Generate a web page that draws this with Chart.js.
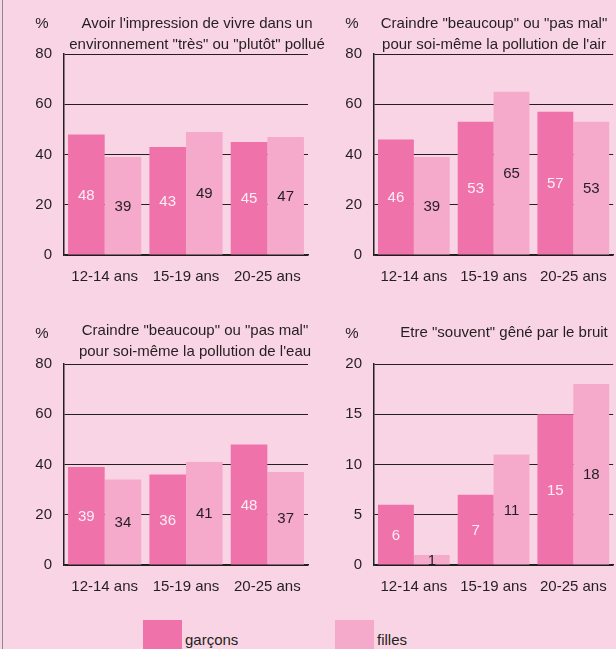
<!DOCTYPE html>
<html lang="fr">
<head>
<meta charset="utf-8">
<title>Les jeunes et l'environnement</title>
<script src="https://cdn.jsdelivr.net/npm/chart.js@4/dist/chart.umd.min.js"></script>
<style>
  html, body { margin: 0; padding: 0; }
  body {
    position: relative;
    width: 616px;
    height: 649px;
    overflow: hidden;
    background: #f9d4e4;
    font-family: 'Liberation Sans', Arial, sans-serif;
    color: #231f20;
  }
  .edge { position: absolute; left: 2px; top: 0; width: 1px; height: 649px; background: #8c8c8c; }
  canvas { position: absolute; }
  #legend .swatch { position: absolute; top: 620px; width: 39px; height: 40px; }
  #legend .name { position: absolute; top: 632px; font-size: 15px; line-height: 15px; }
</style>
</head>
<body>
<div class="edge"></div>
<canvas id="chart-env" width="340" height="290" style="left:0;top:0"></canvas>
<canvas id="chart-air" width="310" height="290" style="left:310px;top:0"></canvas>
<canvas id="chart-eau" width="340" height="290" style="left:0;top:310px"></canvas>
<canvas id="chart-bruit" width="310" height="290" style="left:310px;top:310px"></canvas>
<div id="legend"></div>
<script>
const ageGroups = ['12-14 ans', '15-19 ans', '20-25 ans'];
const seriesNames = ['garçons', 'filles'];

// % de jeunes concernés, par tranche d'âge
const envBoys = [48, 43, 45];
const envGirls = [39, 49, 47];
const airBoys = [46, 53, 57];
const airGirls = [39, 65, 53];
const eauBoys = [39, 36, 48];
const eauGirls = [34, 41, 37];
const bruitBoys = [6, 7, 15];
const bruitGirls = [1, 11, 18];

const pctTicks = [0, 20, 40, 60, 80];
const bruitTicks = [0, 5, 10, 15, 20];

const BOYS_COLOR = '#f072aa';
const GIRLS_COLOR = '#f5aacc';
const INK = '#231f20';
const FONT_FAMILY = "'Liberation Sans', Arial, sans-serif";
const FONT_SIZE = 15;

// "%" and the heading above each plot
const panelText = {
    id: 'panelText',
    afterDraw(chart, args, opts) {
        const ctx = chart.ctx;
        ctx.save();
        ctx.font = `${FONT_SIZE}px ${FONT_FAMILY}`;
        ctx.fillStyle = INK;
        ctx.textBaseline = 'alphabetic';
        ctx.textAlign = 'center';
        ctx.fillText('%', 42, 28);
        opts.lines.forEach((line, k) => ctx.fillText(line, opts.x, opts.y[k]));
        ctx.restore();
    }
};

// value printed in the middle of each bar
const barValues = {
    id: 'barValues',
    afterDatasetsDraw(chart) {
        const ctx = chart.ctx;
        ctx.save();
        ctx.font = `${FONT_SIZE}px ${FONT_FAMILY}`;
        ctx.textAlign = 'center';
        ctx.textBaseline = 'middle';
        chart.data.datasets.forEach((ds, i) => {
            ctx.fillStyle = i === 0 ? '#fdeef5' : INK;
            chart.getDatasetMeta(i).data.forEach((bar, j) => {
                ctx.fillText(ds.data[j], bar.x, (bar.y + bar.base) / 2 + 1);
            });
        });
        ctx.restore();
    }
};

function renderPanel(id, boys, girls, ticks, heading) {
    const canvas = document.getElementById(id);
    const font = { family: FONT_FAMILY, size: FONT_SIZE };
    new Chart(canvas, {
        type: 'bar',
        data: {
            labels: ageGroups,
            datasets: [
                { label: seriesNames[0], data: boys, backgroundColor: BOYS_COLOR },
                { label: seriesNames[1], data: girls, backgroundColor: GIRLS_COLOR }
            ]
        },
        options: {
            responsive: false,
            animation: false,
            categoryPercentage: 0.9,
            barPercentage: 1,
            layout: { padding: { top: 54, left: 0, bottom: 0, right: canvas.width - 308 } },
            plugins: {
                legend: { display: false },
                tooltip: { enabled: false },
                panelText: heading
            },
            scales: {
                x: {
                    grid: { display: false, drawTicks: false },
                    border: { color: INK, width: 1.5 },
                    ticks: { color: INK, font, padding: 13, maxRotation: 0, minRotation: 0, autoSkip: false },
                    afterFit: s => { s.height = 35; }
                },
                y: {
                    min: ticks[0],
                    max: ticks[ticks.length - 1],
                    afterBuildTicks: s => { s.ticks = ticks.map(v => ({ value: v })); },
                    grid: { color: INK, lineWidth: 1, drawTicks: false },
                    border: { color: INK, width: 1.5 },
                    ticks: { color: INK, font, padding: 12 },
                    afterFit: s => { s.width = 64; }
                }
            }
        },
        plugins: [panelText, barValues]
    });
}

function renderLegend() {
    const legend = document.getElementById('legend');
    const colors = [BOYS_COLOR, GIRLS_COLOR];
    const lefts = [143, 335];
    seriesNames.forEach((name, i) => {
        const sw = document.createElement('div');
        sw.className = 'swatch';
        sw.style.left = lefts[i] + 'px';
        sw.style.background = colors[i];
        const label = document.createElement('div');
        label.className = 'name';
        label.style.left = (lefts[i] + 42) + 'px';
        label.textContent = name;
        legend.append(sw, label);
    });
}

renderPanel('chart-env', envBoys, envGirls, pctTicks, {
    lines: ["Avoir l'impression de vivre dans un", 'environnement "très" ou "plutôt" pollué'],
    x: 197, y: [28, 49]
});
renderPanel('chart-air', airBoys, airGirls, pctTicks, {
    lines: ['Craindre "beaucoup" ou "pas mal"', "pour soi-même la pollution de l'air"],
    x: 184, y: [28, 49]
});
renderPanel('chart-eau', eauBoys, eauGirls, pctTicks, {
    lines: ['Craindre "beaucoup" ou "pas mal"', "pour soi-même la pollution de l'eau"],
    x: 195, y: [25, 46]
});
renderPanel('chart-bruit', bruitBoys, bruitGirls, bruitTicks, {
    lines: ['Etre "souvent" gêné par le bruit'],
    x: 194, y: [27]
});
renderLegend();
</script>
</body>
</html>
